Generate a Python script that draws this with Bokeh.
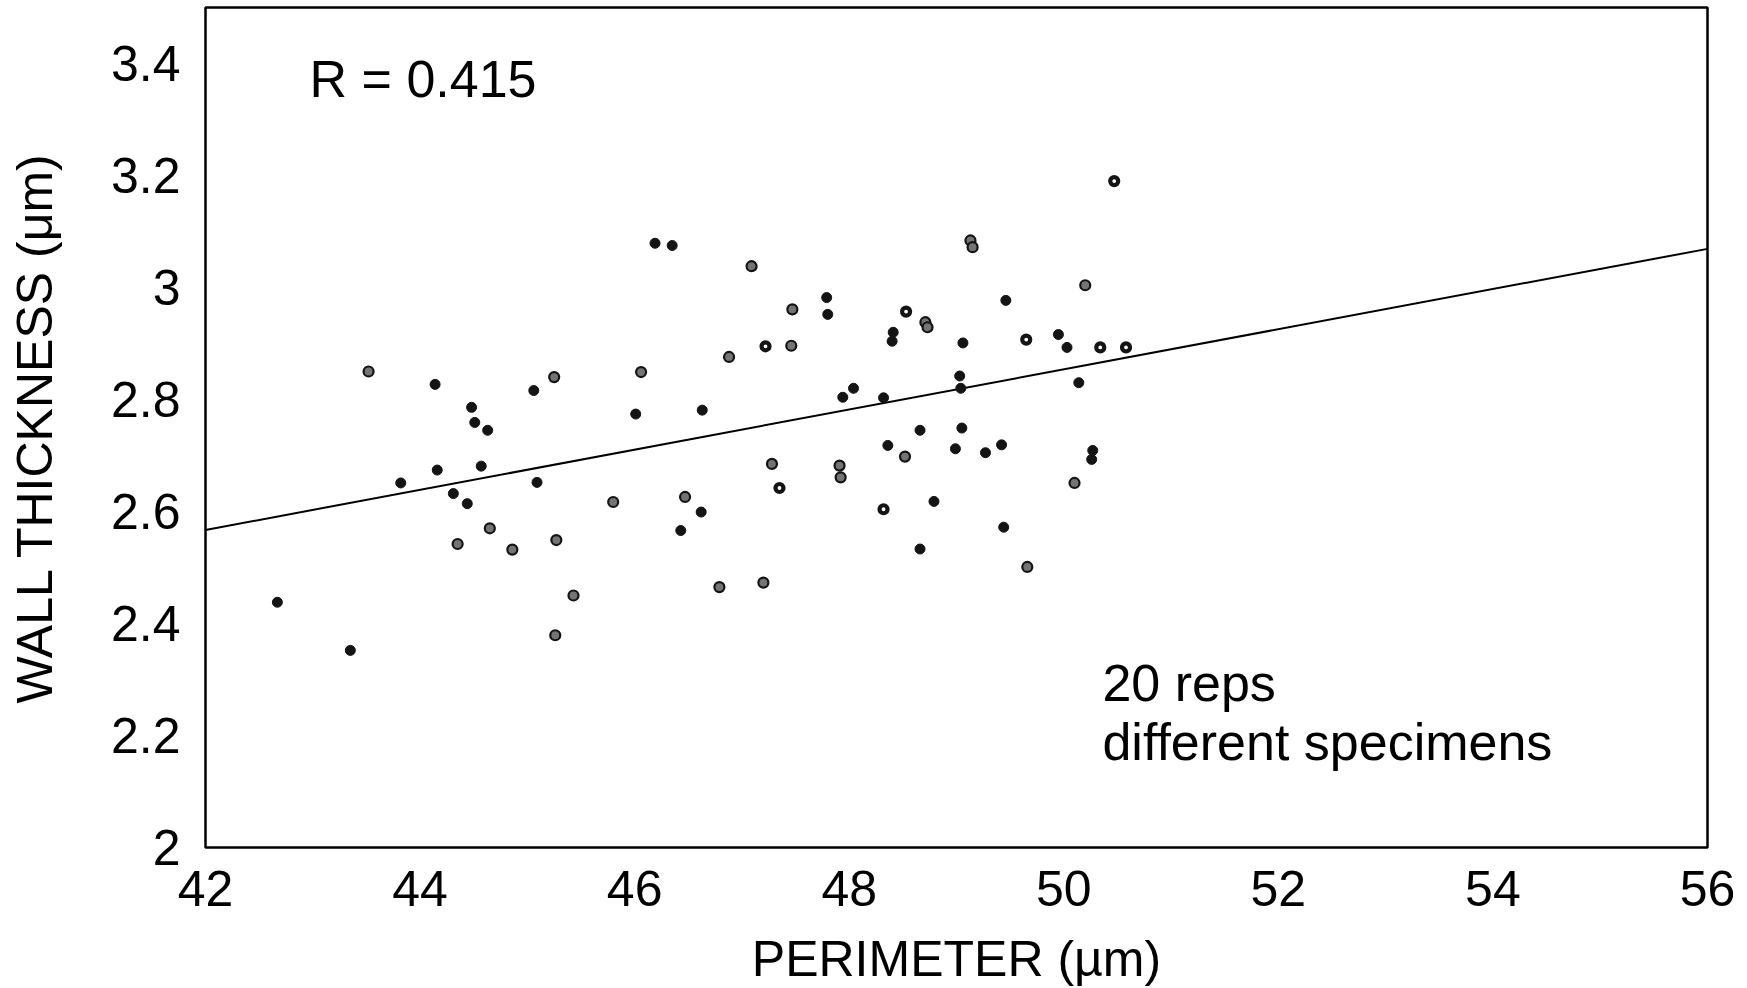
from bokeh.plotting import figure
from bokeh.models import Label, FixedTicker
from bokeh.embed import file_html
from bokeh.resources import INLINE

# ---- data ----
black_perimeter = [46.19, 46.35, 44.14, 45.06, 44.48, 44.51, 44.63, 46.01, 46.63, 44.16,
                   44.57, 43.82, 45.09, 44.31, 44.44, 46.62, 46.43, 42.67, 43.35, 47.79,
                   47.80, 49.46, 48.41, 48.40, 49.06, 49.95, 50.03, 49.03, 49.04, 50.14,
                   48.04, 47.94, 48.32, 48.66, 49.05, 48.36, 48.99, 49.27, 49.42, 50.27,
                   50.26, 48.79, 49.44, 48.66]
black_thickness = [3.079, 3.075, 2.827, 2.816, 2.786, 2.759, 2.745, 2.774, 2.781, 2.674,
                   2.681, 2.651, 2.652, 2.632, 2.614, 2.599, 2.566, 2.438, 2.352, 2.982,
                   2.952, 2.977, 2.920, 2.904, 2.901, 2.916, 2.893, 2.842, 2.820, 2.830,
                   2.820, 2.804, 2.803, 2.745, 2.749, 2.718, 2.712, 2.705, 2.719, 2.709,
                   2.693, 2.618, 2.572, 2.533]

gray_perimeter = [43.52, 45.25, 46.06, 45.80, 46.47, 44.65, 44.35, 44.86, 45.27, 45.43,
                  45.26, 47.09, 49.13, 49.15, 50.20, 47.47, 48.71, 48.73, 47.46, 46.88,
                  48.52, 47.28, 47.91, 47.92, 50.10, 49.66, 46.79, 47.20]
gray_thickness = [2.850, 2.840, 2.849, 2.617, 2.626, 2.570, 2.542, 2.532, 2.549, 2.450,
                  2.379, 3.038, 3.084, 3.072, 3.004, 2.961, 2.938, 2.929, 2.896, 2.876,
                  2.698, 2.685, 2.682, 2.661, 2.651, 2.501, 2.465, 2.473]

open_perimeter = [50.47, 48.53, 49.65, 50.34, 50.58, 47.22, 47.35, 48.32]
open_thickness = [3.190, 2.957, 2.907, 2.893, 2.893, 2.895, 2.642, 2.604]

fit_perimeter = [42.0, 56.0]
fit_thickness = [2.567, 3.069]

x_ticks = [42, 44, 46, 48, 50, 52, 54, 56]
y_ticks = [2.0, 2.2, 2.4, 2.6, 2.8, 3.0, 3.2, 3.4]
y_tick_labels = ["2", "2.2", "2.4", "2.6", "2.8", "3", "3.2", "3.4"]

FONT = "Liberation Sans"

p = figure(frame_width=1502, frame_height=840,
           x_range=(42, 56), y_range=(2, 3.5),
           output_backend="svg", toolbar_location=None,
           min_border_left=205, min_border_right=31,
           min_border_top=7, min_border_bottom=130,
           background_fill_color="white", border_fill_color="white")

p.grid.visible = False
p.outline_line_color = "black"
p.outline_line_width = 2.5
p.outline_line_alpha = 1.0

for ax in (p.xaxis[0], p.yaxis[0]):
    ax.axis_line_color = None
    ax.major_tick_line_color = None
    ax.minor_tick_line_color = None
    ax.major_tick_out = 0
    ax.major_tick_in = 0
    ax.major_label_text_font = FONT
    ax.major_label_text_font_size = "50px"
    ax.major_label_text_color = "black"
    ax.axis_label_text_font = FONT
    ax.axis_label_text_font_size = "50px"
    ax.axis_label_text_font_style = "normal"
    ax.axis_label_text_color = "black"

p.xaxis.ticker = FixedTicker(ticks=x_ticks)
p.yaxis.ticker = FixedTicker(ticks=y_ticks)
p.yaxis.major_label_overrides = dict(zip(y_ticks, y_tick_labels))
p.xaxis.major_label_standoff = 23
p.yaxis.major_label_standoff = 25
p.xaxis.axis_label = "PERIMETER (\u00b5m)"
p.yaxis.axis_label = "WALL THICKNESS (\u03bcm)"
p.xaxis.axis_label_standoff = 22
p.yaxis.axis_label_standoff = 45

# regression line
p.line(fit_perimeter, fit_thickness, line_color="black", line_width=2)

# points
p.scatter(black_perimeter, black_thickness, size=10, marker="circle",
          fill_color="#141414", line_color="#141414", line_width=1)
p.scatter(gray_perimeter, gray_thickness, size=10, marker="circle",
          fill_color="#747474", line_color="#141414", line_width=2.2)
p.scatter(open_perimeter, open_thickness, size=8, marker="circle",
          fill_color="white", line_color="#141414", line_width=4.2)

p.add_layout(Label(x=42.97, y=3.373, text="R = 0.415", text_font=FONT,
                   text_font_size="52px", text_color="black",
                   text_baseline="middle", text_align="left"))
p.add_layout(Label(x=50.36, y=2.2946, text="20 reps", text_font=FONT,
                   text_font_size="52px", text_color="black",
                   text_baseline="middle", text_align="left"))
p.add_layout(Label(x=50.36, y=2.189, text="different specimens", text_font=FONT,
                   text_font_size="52px", text_color="black",
                   text_baseline="middle", text_align="left"))

open("out.html", "w").write(file_html(p, INLINE))
